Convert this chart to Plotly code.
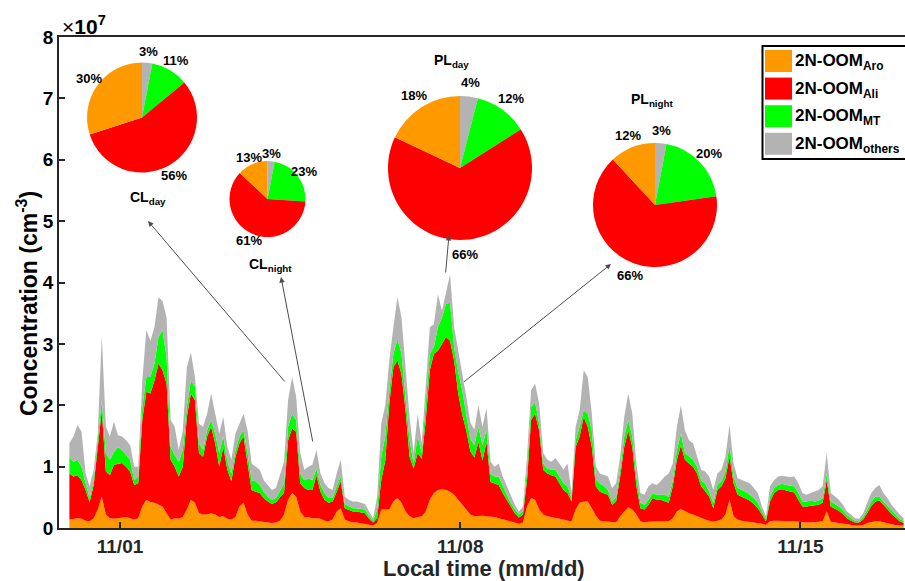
import numpy as np
import pandas as pd
import plotly.graph_objects as go

# ---------------------------------------------------------------------------
# 2N-OOM concentration record, 2-hourly, units of 1e7 cm^-3.
# Each list is the cumulative top of a layer (Aro, Aro+Ali, +MT, total).
# ---------------------------------------------------------------------------
record_start = "2018-10-30 23:00"

lvl_aro = [
    0.14, 0.15, 0.16, 0.15, 0.12, 0.11, 0.16, 0.30, 0.51, 0.22,
    0.16, 0.15, 0.16, 0.18, 0.18, 0.16, 0.14, 0.16, 0.35, 0.46,
    0.42, 0.41, 0.38, 0.35, 0.24, 0.14, 0.16, 0.15, 0.18, 0.30,
    0.46, 0.41, 0.24, 0.22, 0.22, 0.24, 0.22, 0.18, 0.19, 0.15,
    0.14, 0.18, 0.35, 0.41, 0.22, 0.12, 0.12, 0.11, 0.09, 0.09,
    0.08, 0.09, 0.12, 0.22, 0.46, 0.57, 0.51, 0.27, 0.18, 0.18,
    0.16, 0.16, 0.15, 0.12, 0.11, 0.14, 0.27, 0.32, 0.14, 0.11,
    0.09, 0.09, 0.08, 0.07, 0.05, 0.04, 0.08, 0.30, 0.30, 0.30,
    0.43, 0.49, 0.41, 0.27, 0.19, 0.16, 0.18, 0.19, 0.27, 0.46,
    0.57, 0.62, 0.63, 0.62, 0.59, 0.54, 0.46, 0.38, 0.30, 0.22,
    0.19, 0.20, 0.20, 0.19, 0.19, 0.18, 0.16, 0.14, 0.12, 0.11,
    0.09, 0.07, 0.09, 0.35, 0.49, 0.46, 0.30, 0.22, 0.19, 0.18,
    0.16, 0.15, 0.14, 0.12, 0.11, 0.30, 0.41, 0.43, 0.43, 0.32,
    0.20, 0.12, 0.11, 0.11, 0.09, 0.09, 0.19, 0.27, 0.34, 0.30,
    0.22, 0.11, 0.09, 0.10, 0.11, 0.11, 0.11, 0.11, 0.11, 0.16,
    0.27, 0.31, 0.27, 0.24, 0.22, 0.19, 0.16, 0.14, 0.12, 0.10,
    0.12, 0.14, 0.22, 0.46, 0.19, 0.14, 0.12, 0.11, 0.10, 0.10,
    0.09, 0.07, 0.05, 0.11, 0.12, 0.12, 0.12, 0.12, 0.11, 0.11,
    0.10, 0.09, 0.09, 0.09, 0.09, 0.10, 0.11, 0.27, 0.10, 0.09,
    0.08, 0.07, 0.05, 0.05, 0.04, 0.04, 0.05, 0.08, 0.10, 0.11,
    0.11, 0.09, 0.08, 0.06, 0.05, 0.04, 0.04,
]

lvl_ali = [
    0.89, 0.84, 0.86, 0.78, 0.62, 0.42, 0.70, 1.27, 1.92, 0.92,
    0.86, 1.03, 1.05, 1.06, 1.00, 0.92, 0.70, 0.73, 1.76, 2.22,
    2.19, 2.40, 2.68, 2.57, 2.35, 1.11, 1.00, 0.84, 1.00, 1.81,
    2.19, 2.08, 1.22, 1.16, 1.49, 1.65, 1.38, 1.00, 1.32, 0.95,
    0.76, 1.16, 1.38, 1.49, 1.05, 0.62, 0.59, 0.57, 0.49, 0.43,
    0.39, 0.42, 0.50, 0.57, 1.43, 1.62, 1.57, 0.73, 0.65, 0.62,
    0.62, 0.86, 0.59, 0.46, 0.41, 0.43, 0.59, 0.76, 0.32, 0.30,
    0.27, 0.27, 0.25, 0.24, 0.15, 0.09, 0.16, 0.78, 1.10, 2.03,
    2.62, 2.73, 2.51, 1.92, 1.16, 0.97, 1.22, 1.13, 1.76, 2.57,
    2.84, 2.89, 3.00, 3.11, 3.05, 2.73, 2.20, 1.85, 1.59, 1.25,
    1.15, 1.40, 1.10, 1.40, 0.75, 0.73, 0.70, 0.57, 0.46, 0.34,
    0.24, 0.17, 0.22, 0.78, 1.76, 1.86, 1.59, 0.95, 0.89, 0.86,
    0.84, 0.73, 0.62, 0.57, 0.43, 1.32, 1.49, 1.81, 1.65, 1.32,
    0.68, 0.59, 0.57, 0.54, 0.38, 0.43, 0.84, 1.32, 1.59, 1.32,
    0.68, 0.32, 0.30, 0.38, 0.49, 0.46, 0.46, 0.43, 0.41, 0.68,
    1.11, 1.35, 1.11, 1.05, 1.00, 0.89, 0.68, 0.60, 0.51, 0.32,
    0.62, 0.68, 0.81, 1.16, 0.73, 0.54, 0.51, 0.49, 0.45, 0.39,
    0.32, 0.22, 0.11, 0.43, 0.57, 0.62, 0.63, 0.61, 0.59, 0.58,
    0.46, 0.35, 0.35, 0.36, 0.36, 0.38, 0.41, 0.78, 0.35, 0.32,
    0.28, 0.23, 0.16, 0.12, 0.09, 0.09, 0.14, 0.24, 0.36, 0.43,
    0.45, 0.38, 0.30, 0.23, 0.17, 0.11, 0.08,
]

lvl_mt = [
    1.16, 1.08, 1.11, 1.00, 0.73, 0.49, 0.78, 1.43, 2.08, 1.22,
    1.11, 1.24, 1.32, 1.27, 1.19, 1.11, 0.78, 0.84, 1.97, 2.46,
    2.46, 2.68, 3.11, 3.22, 2.78, 1.32, 1.19, 1.08, 1.27, 1.97,
    2.41, 2.30, 1.38, 1.27, 1.59, 1.76, 1.54, 1.22, 1.49, 1.08,
    0.89, 1.27, 1.49, 1.59, 1.22, 0.78, 0.76, 0.70, 0.59, 0.51,
    0.46, 0.49, 0.60, 0.73, 1.65, 1.86, 1.76, 0.89, 0.78, 0.81,
    0.78, 0.97, 0.70, 0.57, 0.49, 0.49, 0.68, 0.84, 0.39, 0.35,
    0.32, 0.32, 0.31, 0.30, 0.19, 0.12, 0.30, 1.16, 1.50, 2.24,
    2.84, 3.08, 2.84, 2.19, 1.43, 1.05, 1.49, 1.22, 1.97, 2.84,
    2.95, 3.27, 3.43, 3.65, 3.67, 2.95, 2.55, 2.25, 1.85, 1.45,
    1.35, 1.65, 1.35, 1.60, 0.88, 0.84, 0.84, 0.68, 0.54, 0.41,
    0.30, 0.22, 0.27, 0.95, 1.97, 2.05, 1.70, 1.05, 0.97, 0.95,
    0.95, 0.84, 0.73, 0.68, 0.49, 1.43, 1.65, 1.92, 1.86, 1.59,
    0.80, 0.72, 0.69, 0.62, 0.43, 0.51, 0.95, 1.49, 1.76, 1.49,
    0.84, 0.41, 0.38, 0.46, 0.57, 0.54, 0.54, 0.54, 0.51, 0.78,
    1.27, 1.54, 1.22, 1.16, 1.11, 1.00, 0.78, 0.72, 0.59, 0.41,
    0.70, 0.76, 0.92, 1.35, 0.84, 0.65, 0.62, 0.59, 0.54, 0.49,
    0.41, 0.27, 0.15, 0.51, 0.65, 0.70, 0.72, 0.70, 0.69, 0.68,
    0.57, 0.43, 0.43, 0.45, 0.43, 0.45, 0.49, 0.89, 0.43, 0.39,
    0.35, 0.29, 0.21, 0.16, 0.12, 0.11, 0.18, 0.30, 0.43, 0.51,
    0.51, 0.43, 0.36, 0.29, 0.22, 0.15, 0.11,
]

lvl_all = [
    1.38, 1.49, 1.68, 1.57, 0.89, 0.68, 0.95, 1.54, 3.13, 1.65,
    1.49, 1.73, 1.51, 1.49, 1.43, 1.35, 1.00, 1.00, 2.40, 3.22,
    3.05, 3.27, 3.76, 3.70, 3.43, 1.76, 1.65, 1.27, 1.59, 2.62,
    2.86, 2.46, 1.70, 1.65, 1.86, 2.19, 1.86, 1.54, 1.81, 1.32,
    1.11, 1.54, 1.70, 1.86, 1.59, 1.05, 1.00, 0.95, 0.78, 0.70,
    0.62, 0.65, 0.85, 1.08, 2.08, 2.46, 2.14, 1.22, 0.95, 1.00,
    1.03, 1.27, 0.89, 0.73, 0.65, 0.62, 0.89, 1.11, 0.51, 0.46,
    0.43, 0.43, 0.41, 0.39, 0.27, 0.16, 0.51, 1.70, 2.00, 2.73,
    3.27, 3.76, 3.43, 2.62, 1.81, 1.22, 1.86, 1.38, 2.30, 3.27,
    3.32, 3.81, 3.54, 3.86, 4.13, 3.27, 2.90, 2.55, 2.14, 1.72,
    1.60, 2.00, 1.65, 1.95, 1.08, 1.00, 1.05, 0.84, 0.68, 0.51,
    0.38, 0.27, 0.35, 1.16, 2.24, 2.35, 2.03, 1.22, 1.11, 1.08,
    1.14, 1.05, 0.95, 1.05, 0.57, 1.65, 1.92, 2.57, 2.46, 1.86,
    1.00, 0.89, 0.86, 0.84, 0.65, 0.73, 1.16, 1.81, 2.19, 1.86,
    1.05, 0.57, 0.54, 0.68, 0.73, 0.70, 0.76, 0.84, 0.89, 1.05,
    1.65, 2.00, 1.59, 1.43, 1.38, 1.16, 0.95, 0.92, 0.84, 0.62,
    0.89, 0.95, 1.16, 1.68, 1.05, 0.81, 0.78, 0.76, 0.73, 0.65,
    0.57, 0.35, 0.19, 0.68, 0.78, 0.84, 0.85, 0.84, 0.83, 0.84,
    0.73, 0.57, 0.54, 0.57, 0.59, 0.62, 0.68, 1.22, 0.57, 0.51,
    0.46, 0.38, 0.27, 0.22, 0.16, 0.15, 0.24, 0.41, 0.57, 0.65,
    0.70, 0.57, 0.49, 0.38, 0.30, 0.22, 0.16,
]

# Source-apportionment pies (percent). Slice order runs clockwise from 12 o'clock.
slice_names = ["others", "MT", "Ali", "Aro"]
pie_cl_day = [3, 11, 56, 30]
pie_cl_night = [3, 23, 61, 13]
pie_pl_day = [4, 12, 66, 18]
pie_pl_night = [3, 20, 66, 12]

x_tick_dates = ["2018-11-01", "2018-11-08", "2018-11-15"]
x_tick_text = ["11/01", "11/08", "11/15"]
y_ticks = [0, 1, 2, 3, 4, 5, 6, 7, 8]

# ---------------------------------------------------------------------------
# Styling
# ---------------------------------------------------------------------------
C_ARO, C_ALI, C_MT, C_OTH = "#FF9900", "#FF0000", "#00FF00", "#B3B3B3"
slice_colors = [C_OTH, C_MT, C_ALI, C_ARO]
FONT = "Liberation Sans, Arial, Helvetica, sans-serif"
AXIS_COLOR = "#262626"

W, H = 905, 581
ML, MR, MT_, MB = 59, 0, 37, 53
PW, PH = W - ML - MR, H - MT_ - MB


def px(x):
    """Pixel column -> paper fraction."""
    return (x - ML) / PW


def py(y):
    """Pixel row (from top) -> paper fraction."""
    return (H - MB - y) / PH


times = pd.date_range(record_start, periods=len(lvl_all), freq="2h")

fig = go.Figure()

layers = [
    (lvl_aro, C_ARO, "tozeroy"),
    (lvl_ali, C_ALI, "tonexty"),
    (lvl_mt, C_MT, "tonexty"),
    (lvl_all, C_OTH, "tonexty"),
]
for values, color, fill in layers:
    fig.add_trace(go.Scatter(
        x=times, y=values, mode="lines", line=dict(width=0, color=color),
        fill=fill, fillcolor=color, showlegend=False, hoverinfo="skip",
    ))

# Pie placement: centre (px), radius (px), label text and its anchor (px)
pies = [
    (pie_cl_day, 142, 117.5, 55, "CL", "day", 148, 198),
    (pie_cl_night, 267.5, 199, 38, "CL", "night", 270, 265),
    (pie_pl_day, 460, 168, 72, "PL", "day", 451, 61),
    (pie_pl_night, 655, 205, 62, "PL", "night", 652, 100),
]

annotations = []
for vals, cx, cy, r, main, sub, tx, ty in pies:
    fig.add_trace(go.Pie(
        values=vals, labels=slice_names, sort=False, direction="clockwise",
        rotation=0, textinfo="none", hoverinfo="skip", showlegend=False,
        marker=dict(colors=slice_colors, line=dict(width=0)),
        domain=dict(x=[px(cx - r), px(cx + r)], y=[py(cy + r), py(cy - r)]),
    ))
    # percentage labels just outside each slice's mid-angle
    total = float(sum(vals))
    start = 0.0
    for v in vals:
        mid = np.radians((start + v / 2.0) / total * 360.0)
        start += v
        lx = cx + 1.2 * r * np.sin(mid)
        ly = cy - 1.2 * r * np.cos(mid)
        annotations.append(dict(
            x=px(lx), y=py(ly), xref="paper", yref="paper", showarrow=False,
            text=f"{v}%", font=dict(family=FONT, size=13, color="black", weight="bold"),
            xanchor="center", yanchor="middle",
        ))
    annotations.append(dict(
        x=px(tx), y=py(ty), xref="paper", yref="paper", showarrow=False,
        text=f"{main}<sub>{sub}</sub>",
        font=dict(family=FONT, size=14, color="black", weight="bold"),
        xanchor="center", yanchor="middle",
    ))

# Arrows from the time series to each pie (tail px -> head px)
arrows = [
    ((286, 383), (148, 221)),
    ((313, 443), (281, 277)),
    ((445.5, 274), (449, 235)),
    ((462.5, 383), (611, 264)),
]
for (x0, y0), (x1, y1) in arrows:
    annotations.append(dict(
        x=px(x1), y=py(y1), xref="paper", yref="paper", text="",
        showarrow=True, ax=x0 - x1, ay=y0 - y1, axref="pixel", ayref="pixel",
        arrowhead=2, arrowsize=1.1, arrowwidth=1, arrowcolor="#4d4d4d", standoff=0,
    ))

# Exponent marker above the y axis
annotations.append(dict(
    x=px(60), y=py(25), xref="paper", yref="paper", showarrow=False,
    text="×<b>10</b><sup><b>7</b></sup>",
    font=dict(family=FONT, size=21, color="black"),
    xanchor="left", yanchor="middle",
))

# Axis titles
annotations.append(dict(
    x=px(484), y=py(569), xref="paper", yref="paper", showarrow=False,
    text="Local time (mm/dd)",
    font=dict(family=FONT, size=22, color=AXIS_COLOR, weight="bold"),
    xanchor="center", yanchor="middle",
))
annotations.append(dict(
    x=px(27), y=py(304), xref="paper", yref="paper", showarrow=False,
    text="Concentration (cm<sup>-3</sup>)", textangle=-90,
    font=dict(family=FONT, size=23, color="black", weight="bold"),
    xanchor="center", yanchor="middle",
))

# Legend box drawn as shapes + text
legend_items = [
    (C_ARO, "Aro"), (C_ALI, "Ali"), (C_MT, "MT"), (C_OTH, "others"),
]
shapes = [dict(
    type="rect", xref="paper", yref="paper",
    x0=px(762.5), x1=px(906), y0=py(159), y1=py(46),
    line=dict(color="black", width=2), fillcolor="white", layer="above",
)]
for i, (color, sub) in enumerate(legend_items):
    top = 50 + 27.6 * i
    shapes.append(dict(
        type="rect", xref="paper", yref="paper",
        x0=px(765), x1=px(792), y0=py(top + 22), y1=py(top),
        line=dict(width=0), fillcolor=color, layer="above",
    ))
    annotations.append(dict(
        x=px(793), y=py(top + 12), xref="paper", yref="paper", showarrow=False,
        text=f"2N-OOM<sub>{sub}</sub>",
        font=dict(family=FONT, size=17, color="black", weight="bold"),
        xanchor="left", yanchor="middle",
    ))

fig.update_layout(
    width=W, height=H,
    margin=dict(l=ML, r=MR, t=MT_, b=MB, autoexpand=False),
    paper_bgcolor="white", plot_bgcolor="white",
    showlegend=False,
    annotations=annotations, shapes=shapes,
    xaxis=dict(
        type="date",
        range=["2018-10-30 17:52", "2018-11-17 03:40"],
        tickmode="array", tickvals=x_tick_dates, ticktext=x_tick_text,
        ticks="inside", ticklen=6, tickwidth=1.5, tickcolor=AXIS_COLOR,
        showline=True, linecolor=AXIS_COLOR, linewidth=1.5, mirror=True,
        showgrid=False, zeroline=False,
        tickfont=dict(family=FONT, size=19, color=AXIS_COLOR, weight="bold"),
    ),
    yaxis=dict(
        range=[0, 8], tickmode="array", tickvals=y_ticks,
        ticks="inside", ticklen=6, tickwidth=1.5, tickcolor=AXIS_COLOR,
        showline=True, linecolor=AXIS_COLOR, linewidth=1.5,
        showgrid=False, zeroline=False,
        tickfont=dict(family=FONT, size=19, color="black", weight="bold"),
    ),
)

fig.write_html("out.html")
